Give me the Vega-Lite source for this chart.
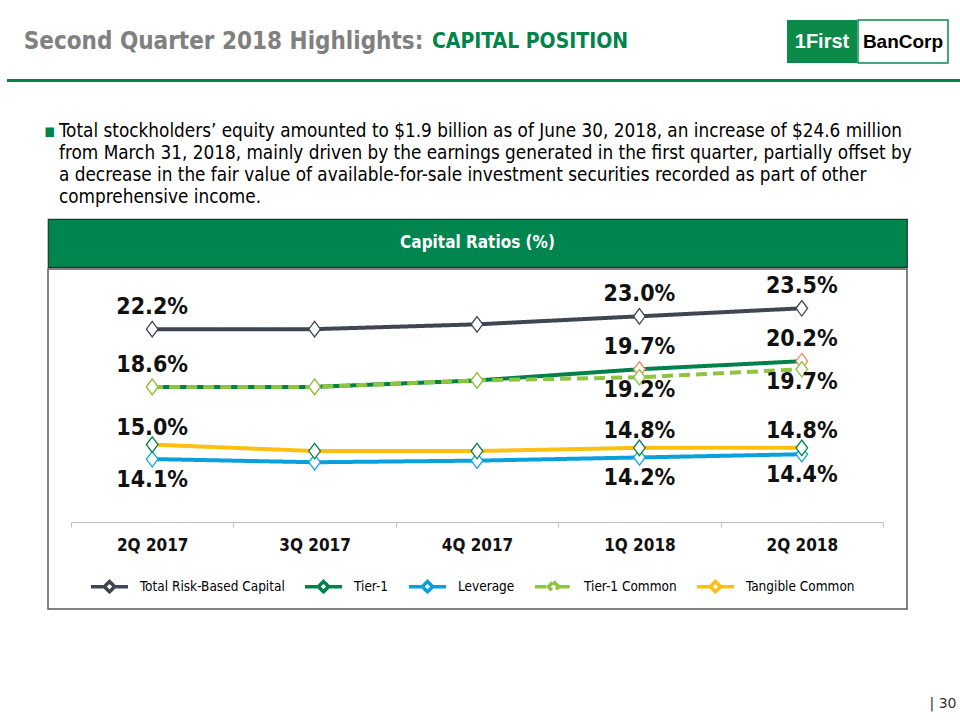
{
  "$schema": "https://vega.github.io/schema/vega-lite/v6.json",
  "background": "white",
  "padding": {"left": 0, "top": 19, "right": 0, "bottom": 0},
  "config": {
    "view": {"stroke": null},
    "concat": {"spacing": 0},
    "font": "DejaVu Sans Condensed",
    "title": {"font": "DejaVu Sans Condensed"}
  },
  "datasets": {
    "ratios": [
      {"quarter": "2Q 2017", "series": "Total Risk-Based Capital", "value": 22.2, "label": "22.2%"},
      {"quarter": "3Q 2017", "series": "Total Risk-Based Capital", "value": 22.2},
      {"quarter": "4Q 2017", "series": "Total Risk-Based Capital", "value": 22.5},
      {"quarter": "1Q 2018", "series": "Total Risk-Based Capital", "value": 23.0, "label": "23.0%"},
      {"quarter": "2Q 2018", "series": "Total Risk-Based Capital", "value": 23.5, "label": "23.5%"},
      {"quarter": "2Q 2017", "series": "Tier-1", "value": 18.6, "label": "18.6%"},
      {"quarter": "3Q 2017", "series": "Tier-1", "value": 18.6},
      {"quarter": "4Q 2017", "series": "Tier-1", "value": 19.0},
      {"quarter": "1Q 2018", "series": "Tier-1", "value": 19.7, "label": "19.7%"},
      {"quarter": "2Q 2018", "series": "Tier-1", "value": 20.2, "label": "20.2%"},
      {"quarter": "2Q 2017", "series": "Leverage", "value": 14.1, "label": "14.1%"},
      {"quarter": "3Q 2017", "series": "Leverage", "value": 13.9},
      {"quarter": "4Q 2017", "series": "Leverage", "value": 14.0},
      {"quarter": "1Q 2018", "series": "Leverage", "value": 14.2, "label": "14.2%"},
      {"quarter": "2Q 2018", "series": "Leverage", "value": 14.4, "label": "14.4%"},
      {"quarter": "2Q 2017", "series": "Tier-1 Common", "value": 18.6},
      {"quarter": "3Q 2017", "series": "Tier-1 Common", "value": 18.6},
      {"quarter": "4Q 2017", "series": "Tier-1 Common", "value": 19.0},
      {"quarter": "1Q 2018", "series": "Tier-1 Common", "value": 19.2, "label": "19.2%"},
      {"quarter": "2Q 2018", "series": "Tier-1 Common", "value": 19.7, "label": "19.7%"},
      {"quarter": "2Q 2017", "series": "Tangible Common", "value": 15.0, "label": "15.0%"},
      {"quarter": "3Q 2017", "series": "Tangible Common", "value": 14.6},
      {"quarter": "4Q 2017", "series": "Tangible Common", "value": 14.6},
      {"quarter": "1Q 2018", "series": "Tangible Common", "value": 14.8, "label": "14.8%"},
      {"quarter": "2Q 2018", "series": "Tangible Common", "value": 14.8, "label": "14.8%"}
    ]
  },
  "spacing": 0,
  "vconcat": [
    {
      "spacing": 0,
      "hconcat": [
        {"width": 22, "height": 43, "data": {"values": [{}]}, "mark": {"type": "rect", "opacity": 0}},
        {"width": 403, "height": 43, "data": {"values": [{"t": "Second Quarter 2018 Highlights:"}]},
         "mark": {"type": "text", "font": "DejaVu Sans Condensed", "fontSize": 24, "fontWeight": "bold", "color": "#808080", "baseline": "middle", "align": "center"},
         "encoding": {"text": {"field": "t", "type": "nominal"}}},
        {"width": 210, "height": 43, "data": {"values": [{"t": "CAPITAL POSITION"}]},
         "mark": {"type": "text", "font": "DejaVu Sans Condensed", "fontSize": 21, "fontWeight": "bold", "color": "#00844a", "baseline": "middle", "align": "center"},
         "encoding": {"text": {"field": "t", "type": "nominal"}}},
        {"width": 152, "height": 43, "data": {"values": [{}]}, "mark": {"type": "rect", "opacity": 0}},
        {"width": 70, "height": 43, "view": {"fill": "#0b8a4a"}, "data": {"values": [{"t": "1First"}]},
         "mark": {"type": "text", "font": "Liberation Sans", "fontSize": 20, "fontWeight": "bold", "color": "#ffffff", "baseline": "middle", "align": "center"},
         "encoding": {"text": {"field": "t", "type": "nominal"}}},
        {"width": 90, "height": 43, "view": {"fill": "#ffffff", "stroke": "#0b8a4a", "strokeWidth": 1.5}, "data": {"values": [{"t": "BanCorp"}]},
         "mark": {"type": "text", "font": "Liberation Sans", "fontSize": 19, "fontWeight": "bold", "color": "#000000", "baseline": "middle", "align": "center"},
         "encoding": {"text": {"field": "t", "type": "nominal"}}}
      ]
    },
    {"width": 1, "height": 15, "data": {"values": [{}]}, "mark": {"type": "rect", "opacity": 0}},
    {
      "spacing": 0,
      "hconcat": [
        {"width": 7, "height": 3, "data": {"values": [{}]}, "mark": {"type": "rect", "opacity": 0}},
        {"width": 953, "height": 3, "data": {"values": [{}]}, "mark": {"type": "rect", "color": "#00844a"}}
      ]
    },
    {"width": 1, "height": 40, "data": {"values": [{}]}, "mark": {"type": "rect", "opacity": 0}},
    {
      "spacing": 0,
      "hconcat": [
        {"width": 44, "height": 1, "data": {"values": [{}]}, "mark": {"type": "rect", "opacity": 0}},
        {"width": 15, "height": 1, "data": {"values": [{}]}, "mark": {"type": "rect", "opacity": 0},
         "title": {"text": ["▪", " ", " ", " "], "anchor": "start", "frame": "group", "fontSize": 18.8, "fontWeight": "normal", "color": "#00844a", "offset": 0, "lineHeight": 22}},
        {"width": 880, "height": 1, "data": {"values": [{}]}, "mark": {"type": "rect", "opacity": 0},
         "title": {
           "text": [
             "Total stockholders’ equity amounted to $1.9 billion as of June 30, 2018, an increase of $24.6 million",
             "from March 31, 2018, mainly driven by the earnings generated in the first quarter, partially offset by",
             "a decrease in the fair value of available-for-sale investment securities recorded as part of other",
             "comprehensive income."
           ],
           "anchor": "start", "frame": "group", "fontSize": 18.8, "fontWeight": "normal", "color": "#000000", "offset": 0, "lineHeight": 22
         }}
      ]
    },
    {"width": 1, "height": 10, "data": {"values": [{}]}, "mark": {"type": "rect", "opacity": 0}},
    {
      "spacing": 0,
      "hconcat": [
        {"width": 47, "height": 48, "data": {"values": [{}]}, "mark": {"type": "rect", "opacity": 0}},
        {"width": 859, "height": 48, "view": {"fill": "#00854f", "stroke": "#1c3b2a", "strokeWidth": 1.2},
         "data": {"values": [{"t": "Capital Ratios (%)"}]},
         "mark": {"type": "text", "font": "DejaVu Sans Condensed", "fontSize": 17, "fontWeight": "bold", "color": "#ffffff", "baseline": "middle", "align": "center"},
         "encoding": {"text": {"field": "t", "type": "nominal"}}}
      ]
    },
    {
      "spacing": 0,
      "hconcat": [
        {"width": 47, "height": 340, "data": {"values": [{}]}, "mark": {"type": "rect", "opacity": 0}},
        {
          "width": 859, "height": 340,
          "view": {"stroke": "#595959", "strokeWidth": 1.5},
          "data": {"name": "ratios"},
          "encoding": {
            "x": {
              "field": "quarter", "type": "ordinal",
              "sort": ["2Q 2017", "3Q 2017", "4Q 2017", "1Q 2018", "2Q 2018"],
              "scale": {"type": "band", "range": [23, 835], "paddingInner": 0, "paddingOuter": 0},
              "axis": {"orient": "bottom", "offset": -87, "title": null, "labelAngle": 0, "labelFontSize": 17, "labelFontWeight": "bold", "labelColor": "#111111", "labelFont": "DejaVu Sans Condensed", "labelPadding": 10, "domainColor": "#bfbfbf", "tickColor": "#bfbfbf", "tickSize": 5, "tickBand": "extent", "grid": false}
            }
          },
          "layer": [
            {
              "mark": {"type": "line", "strokeWidth": 4},
              "encoding": {
                "y": {"field": "value", "type": "quantitative", "scale": {"domain": [4.75, 25.95], "zero": false, "nice": false}, "axis": null},
                "color": {
                  "field": "series", "type": "nominal",
                  "scale": {"domain": ["Total Risk-Based Capital", "Tier-1", "Leverage", "Tier-1 Common", "Tangible Common"], "range": ["#3d4651", "#00814a", "#0aa0dc", "#8cc63e", "#fdc010"]},
                  "legend": {
                    "orient": "none", "legendX": 89, "legendY": 546, "direction": "horizontal", "title": null,
                    "symbolType": "M-1,0L-0.28,0M0.28,0L1,0M0,-0.28L0.28,0L0,0.28L-0.28,0Z",
                    "symbolSize": 1369, "symbolStrokeWidth": 3.5,
                    "labelFontSize": 13.5, "labelColor": "#000000", "labelFont": "DejaVu Sans Condensed", "labelOffset": 10,
                    "columnPadding": 13, "padding": 0,
                    "encode": {"symbols": {"update": {"fill": {"value": "#ffffff"}}}}
                  }
                },
                "strokeDash": {
                  "field": "series", "type": "nominal",
                  "scale": {"domain": ["Total Risk-Based Capital", "Tier-1", "Leverage", "Tier-1 Common", "Tangible Common"], "range": [[1, 0], [1, 0], [1, 0], [11, 6], [1, 0]]},
                  "legend": {
                    "orient": "none", "legendX": 89, "legendY": 546, "direction": "horizontal", "title": null,
                    "symbolType": "M-1,0L-0.28,0M0.28,0L1,0M0,-0.28L0.28,0L0,0.28L-0.28,0Z",
                    "symbolSize": 1369, "symbolStrokeWidth": 3.5,
                    "labelFontSize": 13.5, "labelColor": "#000000", "labelFont": "DejaVu Sans Condensed", "labelOffset": 10,
                    "columnPadding": 13, "padding": 0,
                    "encode": {"symbols": {"update": {"fill": {"value": "#ffffff"}}}}
                  }
                }
              }
            },
            {
              "mark": {"type": "point", "shape": "M0,-1L0.75,0L0,1L-0.75,0Z", "size": 240, "filled": true, "fill": "#ffffff", "opacity": 1, "strokeWidth": 1.3},
              "encoding": {
                "y": {"field": "value", "type": "quantitative"},
                "stroke": {
                  "field": "series", "type": "nominal",
                  "scale": {"domain": ["Total Risk-Based Capital", "Tier-1", "Leverage", "Tier-1 Common", "Tangible Common"], "range": ["#3d4651", "#ef8a5e", "#1aa6dd", "#8cc63e", "#00804a"]},
                  "legend": null
                }
              }
            },
            {
              "transform": [{"filter": "datum.label && (datum.series === 'Total Risk-Based Capital' || datum.series === 'Tier-1')"}],
              "mark": {"type": "text", "dy": -22, "fontSize": 23, "fontWeight": "bold", "color": "#111111", "font": "DejaVu Sans Condensed", "baseline": "middle"},
              "encoding": {"y": {"field": "value", "type": "quantitative"}, "text": {"field": "label", "type": "nominal"}}
            },
            {
              "transform": [{"filter": "datum.label && datum.series === 'Tangible Common'"}],
              "mark": {"type": "text", "dy": -17, "fontSize": 23, "fontWeight": "bold", "color": "#111111", "font": "DejaVu Sans Condensed", "baseline": "middle"},
              "encoding": {"y": {"field": "value", "type": "quantitative"}, "text": {"field": "label", "type": "nominal"}}
            },
            {
              "transform": [{"filter": "datum.label && datum.series === 'Tier-1 Common'"}],
              "mark": {"type": "text", "dy": 13, "fontSize": 23, "fontWeight": "bold", "color": "#111111", "font": "DejaVu Sans Condensed", "baseline": "middle"},
              "encoding": {"y": {"field": "value", "type": "quantitative"}, "text": {"field": "label", "type": "nominal"}}
            },
            {
              "transform": [{"filter": "datum.label && datum.series === 'Leverage'"}],
              "mark": {"type": "text", "dy": 21, "fontSize": 23, "fontWeight": "bold", "color": "#111111", "font": "DejaVu Sans Condensed", "baseline": "middle"},
              "encoding": {"y": {"field": "value", "type": "quantitative"}, "text": {"field": "label", "type": "nominal"}}
            }
          ]
        }
      ]
    },
    {"width": 1, "height": 84, "data": {"values": [{}]}, "mark": {"type": "rect", "opacity": 0}},
    {
      "spacing": 0,
      "hconcat": [
        {"width": 928, "height": 20, "data": {"values": [{}]}, "mark": {"type": "rect", "opacity": 0}},
        {"width": 30, "height": 20, "data": {"values": [{"t": "| 30"}]},
         "mark": {"type": "text", "font": "DejaVu Sans", "fontSize": 14, "color": "#333333", "baseline": "middle", "align": "center"},
         "encoding": {"text": {"field": "t", "type": "nominal"}}}
      ]
    }
  ]
}
